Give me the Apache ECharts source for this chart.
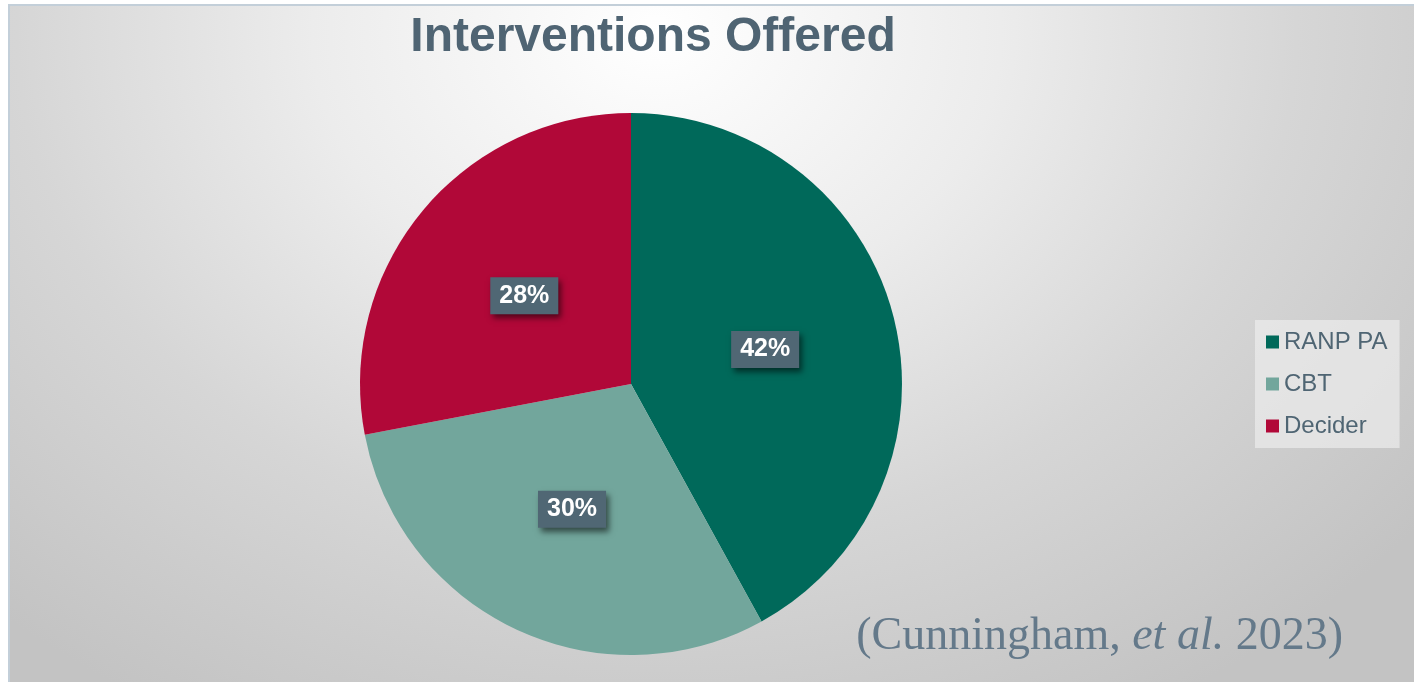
<!DOCTYPE html>
<html>
<head>
<meta charset="utf-8">
<script src="https://cdn.jsdelivr.net/npm/echarts@6/dist/echarts.min.js"></script>
<style>
html, body { margin: 0; padding: 0; width: 1414px; height: 682px; overflow: hidden; background: #fff; }
#frame {
	position: absolute; left: 8px; top: 4px; width: 1406px; height: 678px;
	border-top: 2px solid #c3cfd9; border-left: 2px solid #c3cfd9;
	background: radial-gradient(ellipse 70% 115% at 46% 4%, #ffffff 0%, #ececec 35%, #d6d6d6 65%, #c3c3c3 100%);
}
#container { position: absolute; left: 0; top: 0; width: 1414px; height: 682px; }
</style>
</head>
<body>
<div id="frame"></div>
<div id="container"></div>
<script>
// 数据
var categories = ['RANP PA', 'CBT', 'Decider'];
var percents = [42, 30, 28];
var colors = ['#00695a', '#72a69c', '#b10838'];

var dom = document.getElementById("container");
var myChart = echarts.init(dom);

var pieData = categories.map(function (name, i) {
	return { name: name, value: percents[i], itemStyle: { color: colors[i] } };
});

var option = {
	backgroundColor: 'transparent',
	animation: false,
	title: {
		text: 'Interventions Offered',
		left: 648,
		textAlign: 'center',
		top: 9,
		textStyle: {
			fontFamily: 'Liberation Sans, Arial',
			fontSize: 48,
			fontWeight: 'bold',
			color: '#4f6473'
		}
	},
	legend: {
		orient: 'vertical',
		left: 1255,
		top: 320,
		padding: [10, 12, 10, 11],
		itemGap: 18,
		itemWidth: 13,
		itemHeight: 13,
		icon: 'rect',
		backgroundColor: 'rgba(236,236,236,0.7)',
		textStyle: {
			fontFamily: 'Liberation Sans, Arial',
			fontSize: 24,
			color: '#4f6573'
		},
		data: categories
	},
	series: [{
		name: 'Interventions',
		type: 'pie',
		center: [631, 384],
		radius: 271,
		startAngle: 90,
		clockwise: true,
		silent: true,
		label: {
			position: 'inside',
			formatter: '{c}%',
			fontFamily: 'Liberation Sans, Arial',
			fontSize: 25,
			fontWeight: 'bold',
			color: '#ffffff',
			backgroundColor: '#506774',
			padding: [6, 9, 6, 9],
			shadowColor: 'rgba(0,0,0,0.55)',
			shadowBlur: 6,
			shadowOffsetX: 3,
			shadowOffsetY: 4
		},
		labelLine: { show: false },
		data: pieData
	}],
	graphic: [{
		type: 'text',
		x: 1343,
		y: 637,
		style: {
			text: '{a|(Cunningham, }{b|et al.}{a| 2023)}',
			align: 'right',
			verticalAlign: 'middle',
			rich: {
				a: { fontFamily: 'Liberation Serif, Times New Roman', fontSize: 46, fill: '#64798a', color: '#64798a' },
				b: { fontFamily: 'Liberation Serif, Times New Roman', fontSize: 46, fontStyle: 'italic', fill: '#64798a', color: '#64798a' }
			}
		}
	}]
};

myChart.setOption(option);
</script>
</body>
</html>
